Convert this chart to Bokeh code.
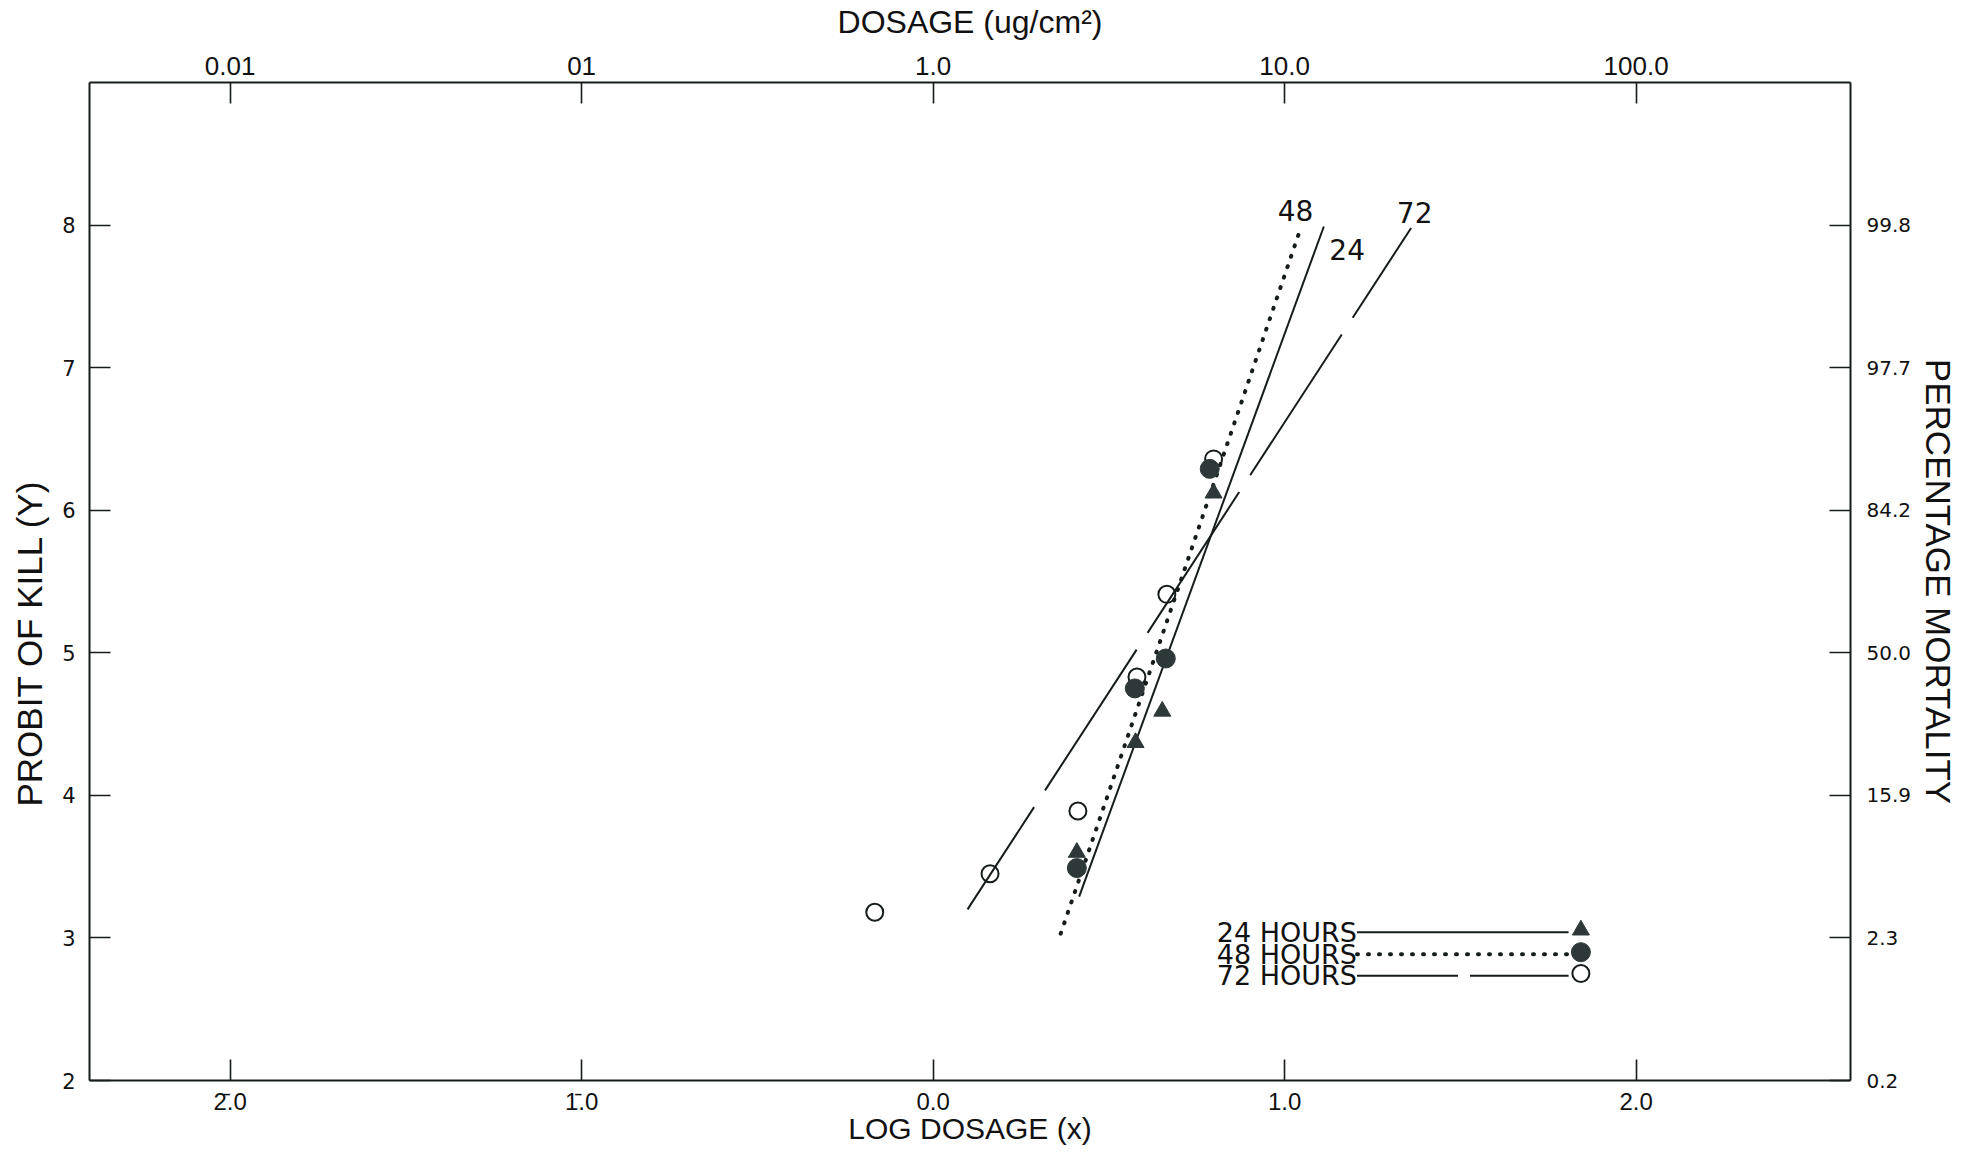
from bokeh.plotting import figure
from bokeh.models import Range1d, LinearAxis, FixedTicker, Title
from bokeh.core.properties import value
from bokeh.embed import file_html
from bokeh.resources import INLINE

# ---------------- data ----------------
log_dose_ticks = [-2, -1, 0, 1, 2]
log_dose_labels = ["2\u0304.0", "1\u0304.0", "0.0", "1.0", "2.0"]
dosage_labels = ["0.01", "01", "1.0", "10.0", "100.0"]
probit_ticks = [2, 3, 4, 5, 6, 7, 8]
probit_labels = ["2", "3", "4", "5", "6", "7", "8"]
mortality_labels = ["0.2", "2.3", "15.9", "50.0", "84.2", "97.7", "99.8"]

# observed points (log dosage, probit)
x_24 = [0.409, 0.576, 0.652, 0.798]
y_24 = [3.60, 4.37, 4.59, 6.12]
x_48 = [0.409, 0.574, 0.662, 0.787]
y_48 = [3.49, 4.75, 4.96, 6.29]
x_72 = [-0.166, 0.162, 0.412, 0.580, 0.665, 0.798]
y_72 = [3.18, 3.45, 3.89, 4.83, 5.41, 6.36]

# fitted probit regression lines (end points)
fit_24_x = [0.4155, 1.1117]
fit_24_y = [3.29, 7.99]
fit_48_x = [0.363, 1.046]
fit_48_y = [3.03, 7.98]
fit_72_x = [0.098, 1.360]
fit_72_y = [3.20, 7.98]

line_labels = ["48", "24", "72"]
line_label_x = [1.031, 1.178, 1.370]
line_label_y = [8.10, 7.83, 8.09]

legend_labels = ["24 HOURS", "48 HOURS", "72 HOURS"]

# ---------------- layout constants ----------------
INK = "#161c1c"
FILL_DARK = "#2f3838"
LEG_TEXT_X = 1.206
LEG_LINE_X0, LEG_LINE_X1 = 1.206, 1.808
LEG_MARK_X = 1.843
LEG_ROW_Y = [3.04, 2.885, 2.735]
LEG_MARK_Y = [3.055, 2.90, 2.75]

p = figure(width=1961, height=1147,
           x_range=Range1d(-2.40, 2.61), y_range=Range1d(2.0, 9.0),
           output_backend="svg", toolbar_location=None,
           x_axis_location=None, y_axis_location=None,
           min_border_left=87, min_border_right=111,
           min_border_top=82, min_border_bottom=67)
p.outline_line_color = None
p.xgrid.visible = False
p.ygrid.visible = False
p.background_fill_color = "white"
p.border_fill_color = "white"


def style_axis(ax, ticks, labels, font, size, standoff):
    ax.ticker = FixedTicker(ticks=ticks)
    ax.major_label_overrides = {t: l for t, l in zip(ticks, labels)}
    ax.major_tick_in = 21
    ax.major_tick_out = 0
    ax.minor_tick_in = 0
    ax.minor_tick_out = 0
    ax.axis_line_width = 2
    ax.axis_line_color = INK
    ax.major_tick_line_width = 1.6
    ax.major_tick_line_color = INK
    ax.major_label_text_font = font
    ax.major_label_text_font_size = f"{size}px"
    ax.major_label_text_color = "#111111"
    ax.major_label_standoff = standoff
    ax.axis_label_text_font = "Liberation Sans"
    ax.axis_label_text_font_style = "normal"
    ax.axis_label_text_color = "#111111"


bottom = LinearAxis(axis_label="LOG DOSAGE (x)")
style_axis(bottom, log_dose_ticks, log_dose_labels, "Liberation Sans", 24, 7)
bottom.axis_label_text_font_size = "30px"
bottom.axis_label_standoff = -6
p.add_layout(bottom, "below")

top = LinearAxis(axis_label="DOSAGE (ug/cm\u00b2)")
style_axis(top, log_dose_ticks, dosage_labels, "Liberation Sans", 26, 8)
top.axis_label_text_font_size = "32px"
top.axis_label_standoff = 14
p.add_layout(top, "above")

left = LinearAxis()
style_axis(left, probit_ticks, probit_labels, "DejaVu Sans", 21, 14)
p.add_layout(left, "left")

right = LinearAxis(axis_label="PERCENTAGE MORTALITY")
style_axis(right, probit_ticks, mortality_labels, "DejaVu Sans", 20, 16)
right.axis_label_text_font_size = "35px"
right.axis_label_standoff = 5
p.add_layout(right, "right")

p.add_layout(Title(text="PROBIT OF KILL (Y)", align="left", offset=274,
                   vertical_align="top", standoff=18,
                   text_font="Liberation Sans", text_font_size="35px",
                   text_font_style="normal", text_color="#111111"), "left")

# fitted lines
p.line(fit_24_x, fit_24_y, line_color=INK, line_width=2)
p.line(fit_48_x, fit_48_y, line_color=INK, line_width=4,
       line_dash="1 10", line_cap="round")
p.line(fit_72_x, fit_72_y, line_color=INK, line_width=2,
       line_dash="168 20", line_dash_offset=46)

# observations
p.scatter(x_72, y_72, marker="circle", size=17, fill_color=None,
          line_color=INK, line_width=2)
p.scatter(x_48, y_48, marker="circle", size=19, fill_color=FILL_DARK,
          line_color=FILL_DARK, line_width=1)
p.scatter(x_24, y_24, marker="triangle", size=17, fill_color=FILL_DARK,
          line_color=FILL_DARK, line_width=1)

# line labels
p.text(line_label_x, line_label_y, text=line_labels,
       text_font=value("DejaVu Sans"), text_font_size=value("28px"),
       text_align="center", text_baseline="middle", text_color="#111111")

# key
p.text([LEG_TEXT_X] * 3, LEG_ROW_Y, text=legend_labels,
       text_font=value("DejaVu Sans"), text_font_size=value("27px"),
       text_align="right", text_baseline="middle", text_color="#111111")
p.line([LEG_LINE_X0, LEG_LINE_X1], [LEG_ROW_Y[0]] * 2, line_color=INK, line_width=2)
p.line([LEG_LINE_X0, LEG_LINE_X1], [LEG_ROW_Y[1]] * 2, line_color=INK, line_width=4,
       line_dash="1 10", line_cap="round")
p.line([LEG_LINE_X0, LEG_LINE_X1], [LEG_ROW_Y[2]] * 2, line_color=INK, line_width=2,
       line_dash="101 12")
p.scatter([LEG_MARK_X], [LEG_MARK_Y[0]], marker="triangle", size=17,
          fill_color=FILL_DARK, line_color=FILL_DARK)
p.scatter([LEG_MARK_X], [LEG_MARK_Y[1]], marker="circle", size=19,
          fill_color=FILL_DARK, line_color=FILL_DARK)
p.scatter([LEG_MARK_X], [LEG_MARK_Y[2]], marker="circle", size=17,
          fill_color=None, line_color=INK, line_width=2)

open("out.html", "w").write(file_html(p, INLINE))
